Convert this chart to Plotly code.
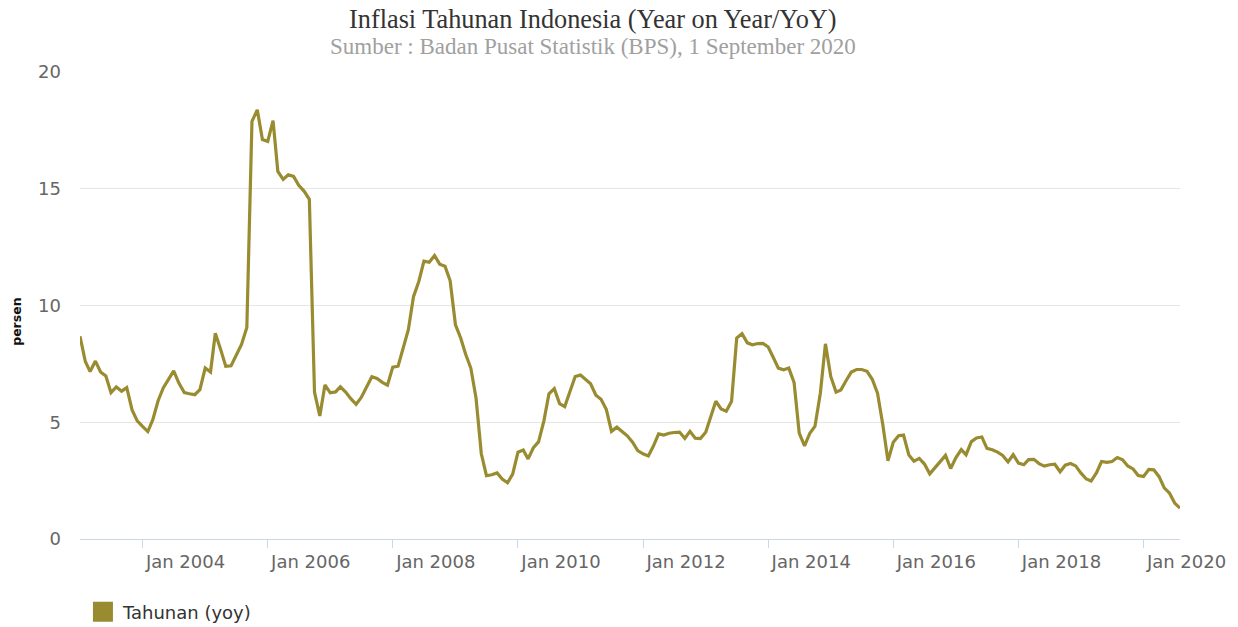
import pandas as pd
import plotly.graph_objects as go

# Monthly year-on-year inflation (%), Jan 2003 .. Aug 2020
v2003 = [8.68, 7.60, 7.17, 7.62, 7.15, 6.98, 6.27, 6.51, 6.33, 6.48, 5.53, 5.06]
v2004 = [4.82, 4.60, 5.11, 5.92, 6.47, 6.83, 7.20, 6.67, 6.27, 6.22, 6.18, 6.40]
v2005 = [7.32, 7.15, 8.81, 8.12, 7.40, 7.42, 7.84, 8.33, 9.06, 17.89, 18.38, 17.11]
v2006 = [17.03, 17.92, 15.74, 15.40, 15.60, 15.53, 15.15, 14.90, 14.55, 6.29, 5.27, 6.60]
v2007 = [6.26, 6.30, 6.52, 6.29, 6.01, 5.77, 6.06, 6.51, 6.95, 6.88, 6.71, 6.59]
v2008 = [7.36, 7.40, 8.17, 8.96, 10.38, 11.03, 11.90, 11.85, 12.14, 11.77, 11.68, 11.06]
v2009 = [9.17, 8.60, 7.92, 7.31, 6.04, 3.65, 2.71, 2.75, 2.83, 2.57, 2.41, 2.78]
v2010 = [3.72, 3.81, 3.43, 3.91, 4.16, 5.05, 6.22, 6.44, 5.80, 5.67, 6.33, 6.96]
v2011 = [7.02, 6.84, 6.65, 6.16, 5.98, 5.54, 4.61, 4.79, 4.61, 4.42, 4.15, 3.79]
v2012 = [3.65, 3.56, 3.97, 4.50, 4.45, 4.53, 4.56, 4.58, 4.31, 4.61, 4.32, 4.30]
v2013 = [4.57, 5.31, 5.90, 5.57, 5.47, 5.90, 8.61, 8.79, 8.40, 8.32, 8.37, 8.38]
v2014 = [8.22, 7.75, 7.32, 7.25, 7.32, 6.70, 4.53, 3.99, 4.53, 4.83, 6.23, 8.36]
v2015 = [6.96, 6.29, 6.38, 6.79, 7.15, 7.26, 7.26, 7.18, 6.83, 6.25, 4.89, 3.35]
v2016 = [4.14, 4.42, 4.45, 3.60, 3.33, 3.45, 3.21, 2.79, 3.07, 3.31, 3.58, 3.02]
v2017 = [3.49, 3.83, 3.61, 4.17, 4.33, 4.37, 3.88, 3.82, 3.72, 3.58, 3.30, 3.61]
v2018 = [3.25, 3.18, 3.40, 3.41, 3.23, 3.12, 3.18, 3.20, 2.88, 3.16, 3.23, 3.13]
v2019 = [2.82, 2.57, 2.48, 2.83, 3.32, 3.28, 3.32, 3.49, 3.39, 3.13, 3.00, 2.72]
v2020 = [2.68, 2.98, 2.96, 2.67, 2.19, 1.96, 1.54, 1.32]

values = (v2003 + v2004 + v2005 + v2006 + v2007 + v2008 + v2009 + v2010 + v2011
          + v2012 + v2013 + v2014 + v2015 + v2016 + v2017 + v2018 + v2019 + v2020)
start_month = "2003-01-01"
months = pd.date_range(start_month, periods=len(values), freq="MS")

series_name = "Tahunan (yoy)"
title_text = "Inflasi Tahunan Indonesia (Year on Year/YoY)"
subtitle_text = "Sumber : Badan Pusat Statistik (BPS), 1 September 2020"
y_title = "persen"

COLOR = "#998b30"
TICKFONT = dict(family="DejaVu Sans, Verdana, sans-serif", size=18, color="#666666")

fig = go.Figure()
fig.add_trace(go.Scatter(
    x=months, y=values, mode="lines", name=series_name,
    line=dict(color=COLOR, width=3.2), showlegend=False, legendgroup="s"))
# legend entry (square swatch) for the same series
fig.add_trace(go.Scatter(
    x=[None], y=[None], mode="markers", name=series_name, legendgroup="s",
    marker=dict(symbol="square", size=16, color=COLOR, line=dict(color=COLOR, width=4)),
    showlegend=True))

fig.update_layout(
    width=1238, height=627,
    margin=dict(l=80, r=58, t=72, b=88, autoexpand=False),
    paper_bgcolor="white", plot_bgcolor="white",
    showlegend=True,
    legend=dict(orientation="h", xref="container", yref="container",
                x=0.067, y=0.024, xanchor="left", yanchor="middle",
                font=dict(family="DejaVu Sans, Verdana, sans-serif", size=18, color="#333333"),
                bgcolor="rgba(0,0,0,0)"),
    xaxis=dict(
        type="date",
        range=[months[0], months[-1]],
        tick0="2004-01-01", dtick="M24", tickformat="%b %Y",
        showgrid=False, zeroline=False,
        showline=True, linecolor="#ccd6eb", linewidth=1,
        ticks="outside", ticklen=8, tickcolor="#ccd6eb",
        tickfont=TICKFONT,
        ticklabelshift=43, ticklabelstandoff=-2,
    ),
    yaxis=dict(
        range=[0, 20], dtick=5, tick0=0,
        showgrid=True, gridcolor="#e6e6e6", gridwidth=1,
        zeroline=False, showline=False, ticks="",
        tickfont=TICKFONT, ticklabelstandoff=18,
    ),
    annotations=[
        dict(text=title_text, xref="paper", yref="paper", x=0.4664, y=1.113,
             xanchor="center", yanchor="middle", showarrow=False,
             font=dict(family="Liberation Serif, Times New Roman, serif", size=26.3, color="#333333")),
        dict(text=subtitle_text, xref="paper", yref="paper", x=0.4664, y=1.054,
             xanchor="center", yanchor="middle", showarrow=False,
             font=dict(family="Liberation Serif, Times New Roman, serif", size=23, color="#a0a0a0")),
        dict(text="<b>" + y_title + "</b>", xref="paper", yref="paper", x=-0.0573, y=0.465,
             xanchor="center", yanchor="middle", textangle=-90, showarrow=False,
             font=dict(family="DejaVu Sans, Verdana, sans-serif", size=12.5, color="#111111")),
    ],
)

fig.write_html("out.html")
